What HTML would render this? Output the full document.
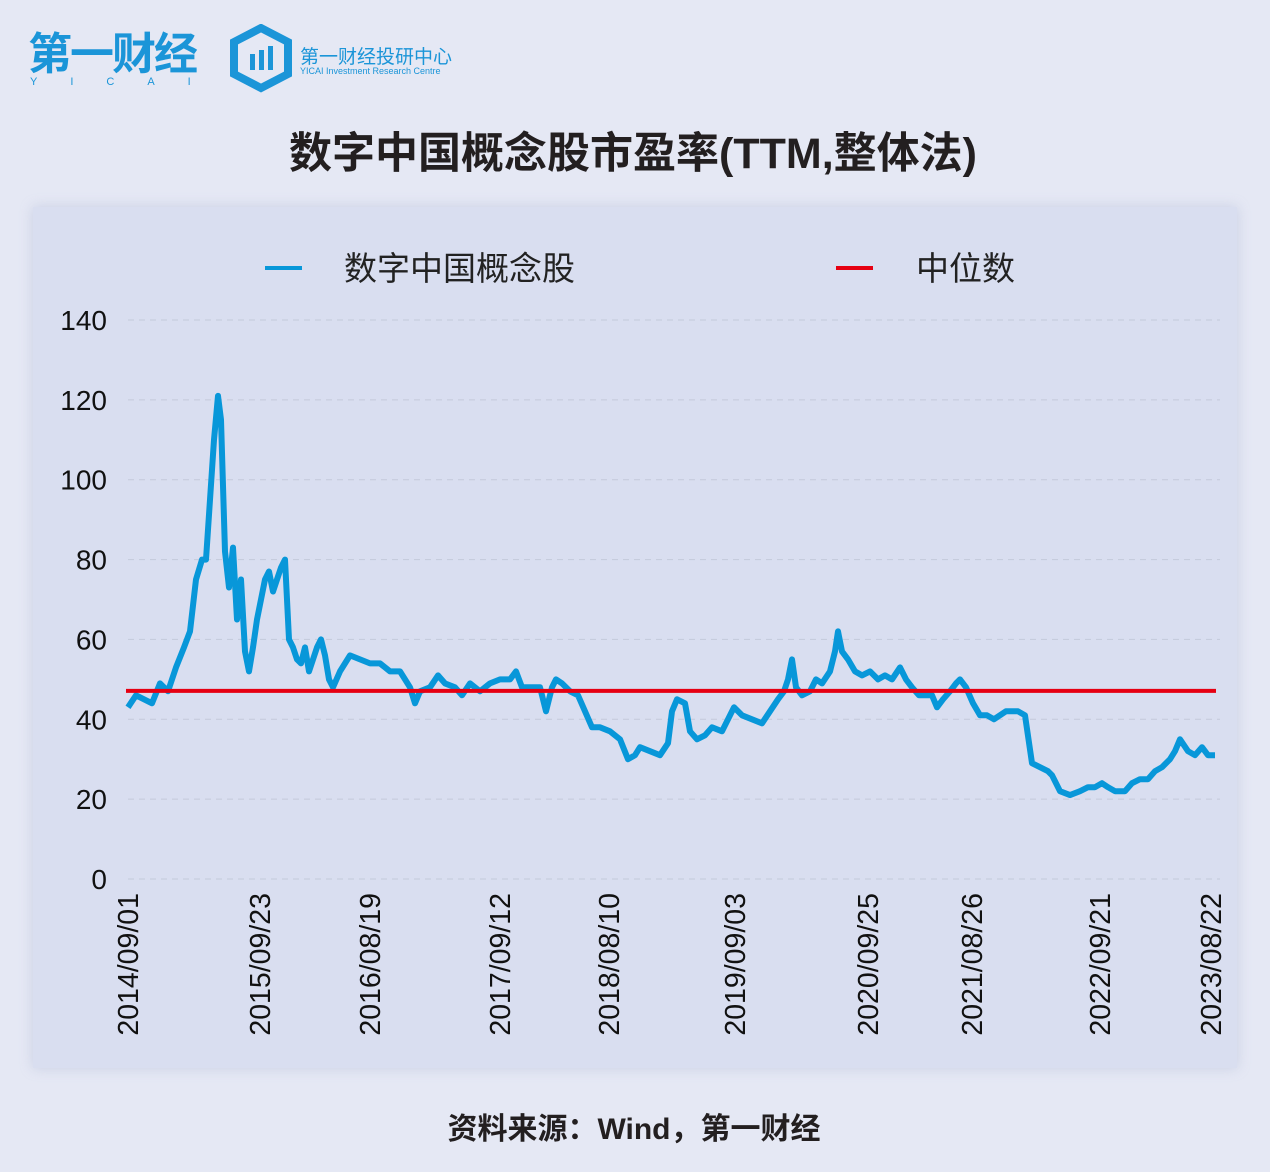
<!DOCTYPE html>
<html><head><meta charset="utf-8"><style>
body{margin:0;width:1270px;height:1172px;background:#e5e8f4;font-family:"Liberation Sans","Noto Sans CJK SC",sans-serif;overflow:hidden;position:relative}
.abs{position:absolute}
</style></head><body>
<div class="abs" style="left:28px;top:30px;color:#1b95d8;font-weight:bold;font-size:44px;letter-spacing:-2px;line-height:50px">第一财经</div>
<div class="abs" style="left:30px;top:76px;color:#1b95d8;font-size:11px;letter-spacing:33px">YICAI</div>
<svg class="abs" style="left:228px;top:24px" width="66" height="70"><polygon points="33,4 60,18 60,50 33,64 6,50 6,18" fill="none" stroke="#1b95d8" stroke-width="8"/><rect x="22" y="30" width="5" height="16" fill="#1b95d8"/><rect x="31" y="26" width="5" height="20" fill="#1b95d8"/><rect x="40" y="22" width="5" height="24" fill="#1b95d8"/></svg>
<div class="abs" style="left:300px;top:42px;color:#1b95d8;font-size:19px">第一财经投研中心</div>
<div class="abs" style="left:300px;top:66px;color:#1b95d8;font-size:9px">YICAI Investment Research Centre</div>
<div class="abs" style="left:0;width:1266px;top:119px;text-align:center;font-size:43px;font-weight:bold;color:#231f20">数字中国概念股市盈率(TTM,整体法)</div>
<div class="abs" style="left:33px;top:207px;width:1204px;height:861px;background:#d9def0;box-shadow:0 0 12px rgba(150,160,200,.35)"></div>
<svg class="abs" style="left:0;top:0" width="1270" height="1172" id="chart">
<line x1="265" y1="268" x2="302" y2="268" stroke="#0897d9" stroke-width="4"/>
<text x="344" y="280" font-size="33" fill="#222">数字中国概念股</text>
<line x1="836" y1="268" x2="873" y2="268" stroke="#e60012" stroke-width="4"/>
<text x="916" y="280" font-size="33" fill="#222">中位数</text>
<g id="grid"></g><g id="marks"></g><g id="xt"></g>
</svg>
<div class="abs" style="left:0;width:1268px;top:1104px;text-align:center;font-size:30px;font-weight:bold;color:#231f20">资料来源：Wind，第一财经</div>
<script>
const days=[0,24,48,72,96,120,144,168,186,204,222,234,246,258,270,279,291,303,315,327,339,351,363,375,387,399,411,423,435,447,459,471,483,495,507,519,531,543,555,567,579,591,603,615,636,666,696,726,756,786,816,846,861,876,906,930,951,981,1002,1026,1056,1086,1116,1146,1164,1182,1206,1236,1254,1272,1284,1302,1326,1350,1371,1392,1416,1446,1476,1500,1521,1536,1566,1596,1620,1632,1647,1671,1686,1707,1731,1752,1782,1800,1818,1842,1872,1902,1926,1950,1968,1980,1992,2004,2022,2046,2064,2082,2106,2121,2130,2142,2160,2181,2202,2226,2250,2271,2292,2316,2334,2352,2373,2394,2412,2427,2445,2466,2484,2496,2514,2535,2556,2577,2598,2616,2634,2670,2691,2712,2736,2760,2772,2796,2826,2856,2880,2901,2922,2940,2961,2991,3012,3036,3060,3081,3102,3126,3141,3156,3180,3201,3222,3240,3252,3261];
const values=[43,46,45,44,49,47,53,58,62,75,80,80,95,110,121,115,82,73,83,65,75,57,52,58,65,70,75,77,72,75,78,80,60,58,55,54,58,52,55,58,60,56,50,48,52,56,55,54,54,52,52,48,44,47,48,51,49,48,46,49,47,49,50,50,52,48,48,48,42,48,50,49,47,46,42,38,38,37,35,30,31,33,32,31,34,42,45,44,37,35,36,38,37,40,43,41,40,39,42,45,47,50,55,48,46,47,50,49,52,57,62,57,55,52,51,52,50,51,50,53,50,48,46,46,46,43,45,47,49,50,48,44,41,41,40,41,42,42,41,29,28,27,26,22,21,22,23,23,24,23,22,22,24,25,25,27,28,30,32,35,32,31,33,31,31,31,29,28];
const median=47.1;
const yTicks=[0,20,40,60,80,100,120,140];
const xTickDays=[0,396,726,1116,1443,1821,2220,2532,2916,3249];
const xTickLabels=["2014/09/01","2015/09/23","2016/08/19","2017/09/12","2018/08/10","2019/09/03","2020/09/25","2021/08/26","2022/09/21","2023/08/22"];
const X0=128,X1=1215,Y0=879,Y1=320,DMAX=3261,VMAX=140;
const xs=d=>X0+(d/DMAX)*(X1-X0);
const ys=v=>Y0-(v/VMAX)*(Y0-Y1);
const NS="http://www.w3.org/2000/svg";
const grid=document.getElementById('grid'),marks=document.getElementById('marks'),xt=document.getElementById('xt');
yTicks.forEach(t=>{
 const l=document.createElementNS(NS,'line');
 l.setAttribute('x1',128);l.setAttribute('x2',1220);l.setAttribute('y1',ys(t));l.setAttribute('y2',ys(t));
 l.setAttribute('stroke','#c4c9da');l.setAttribute('stroke-dasharray','6,5');l.setAttribute('stroke-width','1');
 
 
 grid.appendChild(l);
 const tx=document.createElementNS(NS,'text');
 tx.setAttribute('x',107);tx.setAttribute('y',ys(t)+10);tx.setAttribute('text-anchor','end');tx.setAttribute('font-size','28');tx.setAttribute('fill','#111');
 tx.textContent=t;
 
 
 grid.appendChild(tx);
});
const p=document.createElementNS(NS,'path');
p.setAttribute('d',days.map((d,i)=>(i?'L':'M')+xs(d).toFixed(1)+','+ys(values[i]).toFixed(1)).join(''));
p.setAttribute('fill','none');p.setAttribute('stroke','#0897d9');p.setAttribute('stroke-width','6');p.setAttribute('stroke-linejoin','round');


marks.appendChild(p);
const m=document.createElementNS(NS,'line');
m.setAttribute('x1',126);m.setAttribute('x2',1216);m.setAttribute('y1',ys(median));m.setAttribute('y2',ys(median));
m.setAttribute('stroke','#e60012');m.setAttribute('stroke-width','4');


marks.appendChild(m);
xTickDays.forEach((d,i)=>{
 const tx=document.createElementNS(NS,'text');
 const x=xs(d)+10,y=893;
 tx.setAttribute('transform','translate('+x+','+y+') rotate(-90)');
 tx.setAttribute('text-anchor','end');tx.setAttribute('font-size','28.5');tx.setAttribute('fill','#111');
 tx.textContent=xTickLabels[i];
 
 
 xt.appendChild(tx);
});
</script>
</body></html>
